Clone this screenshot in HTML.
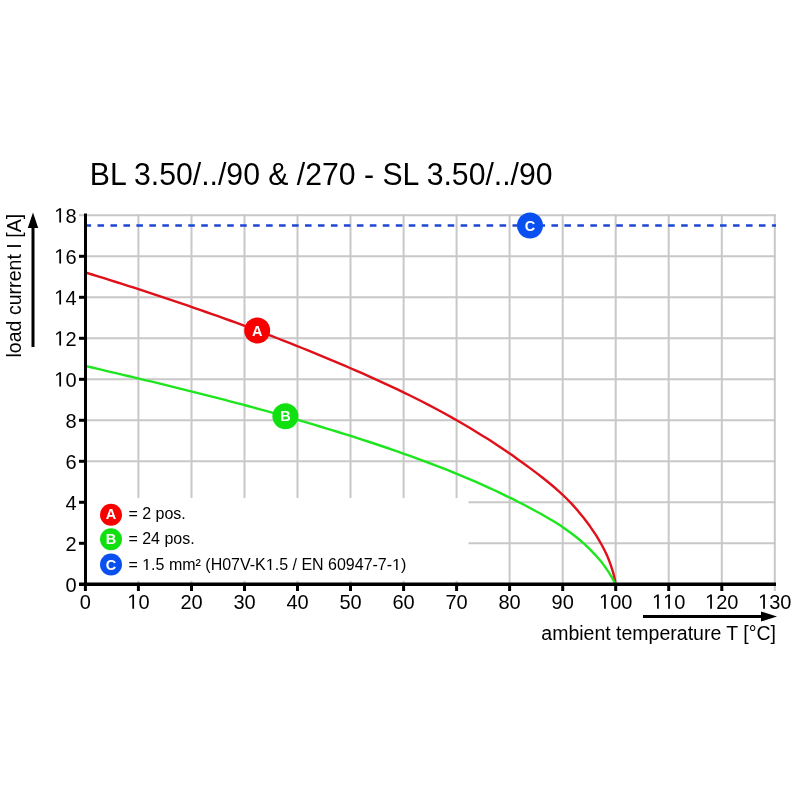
<!DOCTYPE html>
<html><head><meta charset="utf-8"><title>Derating curve BL 3.50 / SL 3.50</title><style>
html,body{margin:0;padding:0;background:#fff;}
svg{display:block;will-change:transform;font-family:"Liberation Sans",sans-serif;}
.o{fill-opacity:0;}
</style></head><body>
<svg width="800" height="800" viewBox="0 0 800 800">
<rect width="800" height="800" fill="#fff"/>
<g stroke="#c8c8c8" stroke-width="2"><line x1="138.4" y1="214" x2="138.4" y2="584"/><line x1="191.5" y1="214" x2="191.5" y2="584"/><line x1="244.5" y1="214" x2="244.5" y2="584"/><line x1="297.5" y1="214" x2="297.5" y2="584"/><line x1="350.5" y1="214" x2="350.5" y2="584"/><line x1="403.6" y1="214" x2="403.6" y2="584"/><line x1="456.6" y1="214" x2="456.6" y2="584"/><line x1="509.6" y1="214" x2="509.6" y2="584"/><line x1="562.7" y1="214" x2="562.7" y2="584"/><line x1="615.7" y1="214" x2="615.7" y2="584"/><line x1="668.7" y1="214" x2="668.7" y2="584"/><line x1="721.8" y1="214" x2="721.8" y2="584"/><line x1="774.8" y1="214" x2="774.8" y2="591"/><line x1="85" y1="543.3" x2="775.5" y2="543.3"/><line x1="85" y1="502.3" x2="775.5" y2="502.3"/><line x1="85" y1="461.3" x2="775.5" y2="461.3"/><line x1="85" y1="420.3" x2="775.5" y2="420.3"/><line x1="85" y1="379.3" x2="775.5" y2="379.3"/><line x1="85" y1="338.3" x2="775.5" y2="338.3"/><line x1="85" y1="297.3" x2="775.5" y2="297.3"/><line x1="85" y1="256.3" x2="775.5" y2="256.3"/><line x1="79" y1="215.3" x2="775.5" y2="215.3"/></g>
<line x1="84.5" y1="225.5" x2="776" y2="225.5" stroke="#1e46d2" stroke-width="2.3" stroke-dasharray="6.6 6.37"/>
<rect x="87" y="498" width="381.5" height="83" fill="#fff"/>
<path d="M86.0,272.6 L92.0,274.5 L98.0,276.3 L104.0,278.2 L110.0,280.1 L116.0,282.0 L122.0,283.9 L128.0,285.8 L134.0,287.7 L140.0,289.7 L146.0,291.6 L152.0,293.6 L158.0,295.6 L164.0,297.6 L170.0,299.6 L176.0,301.6 L182.0,303.6 L188.0,305.7 L194.0,307.8 L200.0,309.9 L206.0,312.0 L212.0,314.1 L218.0,316.2 L224.0,318.4 L230.0,320.5 L236.0,322.7 L242.0,324.9 L248.0,327.1 L254.0,329.4 L260.0,331.6 L266.0,333.9 L272.0,336.2 L278.0,338.5 L284.0,340.9 L290.0,343.2 L296.0,345.6 L302.0,348.0 L308.0,350.4 L314.0,352.9 L320.0,355.3 L326.0,357.8 L332.0,360.3 L338.0,362.8 L344.0,365.4 L350.0,368.0 L356.0,370.6 L362.0,373.2 L368.0,375.9 L374.0,378.6 L380.0,381.3 L386.0,384.1 L392.0,386.9 L398.0,389.7 L404.0,392.6 L410.0,395.5 L416.0,398.5 L422.0,401.5 L428.0,404.6 L434.0,407.8 L440.0,411.0 L446.0,414.3 L452.0,417.6 L458.0,421.0 L464.0,424.5 L470.0,428.0 L476.0,431.7 L482.0,435.4 L488.0,439.1 L494.0,443.0 L500.0,447.0 L506.0,451.0 L512.0,455.1 L518.0,459.4 L524.0,463.7 L530.0,468.1 L536.0,472.6 L542.0,477.3 L548.0,482.0 L554.0,487.0 L560.0,492.3 L566.0,498.0 L572.0,504.1 L578.0,510.9 L584.0,518.2 L590.0,526.3 L596.0,535.2 L600.0,541.8 L601.5,544.5 L603.0,547.3 L604.5,550.2 L606.0,553.3 L607.5,556.6 L609.0,560.3 L610.5,564.3 L612.0,568.8 L613.5,573.8 L615.0,580.1 L615.5,584.0" fill="none" stroke="#e0101a" stroke-width="2.4" stroke-linejoin="round"/>
<path d="M86.0,366.1 L92.0,367.5 L98.0,368.9 L104.0,370.3 L110.0,371.8 L116.0,373.2 L122.0,374.6 L128.0,376.0 L134.0,377.4 L140.0,378.9 L146.0,380.3 L152.0,381.7 L158.0,383.2 L164.0,384.7 L170.0,386.1 L176.0,387.6 L182.0,389.1 L188.0,390.6 L194.0,392.1 L200.0,393.6 L206.0,395.1 L212.0,396.6 L218.0,398.2 L224.0,399.7 L230.0,401.3 L236.0,402.9 L242.0,404.4 L248.0,406.0 L254.0,407.7 L260.0,409.3 L266.0,410.9 L272.0,412.6 L278.0,414.3 L284.0,416.0 L290.0,417.7 L296.0,419.4 L302.0,421.1 L308.0,422.9 L314.0,424.7 L320.0,426.5 L326.0,428.3 L332.0,430.1 L338.0,432.0 L344.0,433.8 L350.0,435.7 L356.0,437.6 L362.0,439.6 L368.0,441.5 L374.0,443.5 L380.0,445.5 L386.0,447.5 L392.0,449.6 L398.0,451.7 L404.0,453.8 L410.0,455.9 L416.0,458.1 L422.0,460.3 L428.0,462.5 L434.0,464.8 L440.0,467.1 L446.0,469.4 L452.0,471.8 L458.0,474.3 L464.0,476.8 L470.0,479.3 L476.0,481.9 L482.0,484.6 L488.0,487.3 L494.0,490.0 L500.0,492.9 L506.0,495.8 L512.0,498.7 L518.0,501.7 L524.0,504.8 L530.0,508.0 L536.0,511.2 L542.0,514.5 L548.0,518.0 L554.0,521.5 L560.0,525.3 L566.0,529.4 L572.0,533.7 L578.0,538.5 L584.0,543.7 L590.0,549.4 L596.0,555.7 L600.0,560.3 L601.5,562.1 L603.0,564.1 L604.5,566.1 L606.0,568.2 L607.5,570.4 L609.0,572.7 L610.5,575.1 L612.0,577.6 L613.5,580.3 L615.0,583.0 L615.5,584.0" fill="none" stroke="#1ee61e" stroke-width="2.4" stroke-linejoin="round"/>
<line x1="85.5" y1="213.5" x2="85.5" y2="586" stroke="#000" stroke-width="3"/>
<line x1="79" y1="584.3" x2="776" y2="584.3" stroke="#000" stroke-width="3.4"/>
<g stroke="#000" stroke-width="3"><line x1="79" y1="543.3" x2="86" y2="543.3"/><line x1="79" y1="502.3" x2="86" y2="502.3"/><line x1="79" y1="461.3" x2="86" y2="461.3"/><line x1="79" y1="420.3" x2="86" y2="420.3"/><line x1="79" y1="379.3" x2="86" y2="379.3"/><line x1="79" y1="338.3" x2="86" y2="338.3"/><line x1="79" y1="297.3" x2="86" y2="297.3"/><line x1="79" y1="256.3" x2="86" y2="256.3"/><line x1="85.4" y1="584" x2="85.4" y2="591"/><line x1="138.4" y1="584" x2="138.4" y2="591"/><line x1="191.5" y1="584" x2="191.5" y2="591"/><line x1="244.5" y1="584" x2="244.5" y2="591"/><line x1="297.5" y1="584" x2="297.5" y2="591"/><line x1="350.5" y1="584" x2="350.5" y2="591"/><line x1="403.6" y1="584" x2="403.6" y2="591"/><line x1="456.6" y1="584" x2="456.6" y2="591"/><line x1="509.6" y1="584" x2="509.6" y2="591"/><line x1="562.7" y1="584" x2="562.7" y2="591"/><line x1="615.7" y1="584" x2="615.7" y2="591"/><line x1="668.7" y1="584" x2="668.7" y2="591"/><line x1="721.8" y1="584" x2="721.8" y2="591"/></g>
<g font-size="20"><text transform="matrix(1,0,0,1.04,76.5,591.5999999999999)" text-anchor="end">0</text><text transform="matrix(1,0,0,1.04,76.5,550.5999999999999)" text-anchor="end">2</text><text transform="matrix(1,0,0,1.04,76.5,509.59999999999997)" text-anchor="end">4</text><text transform="matrix(1,0,0,1.04,76.5,468.59999999999997)" text-anchor="end">6</text><text transform="matrix(1,0,0,1.04,76.5,427.59999999999997)" text-anchor="end">8</text><text transform="matrix(1,0,0,1.04,76.5,386.59999999999997)" text-anchor="end"><tspan class="o">1</tspan>0</text><text transform="matrix(1,0,0,1.04,76.5,345.59999999999997)" text-anchor="end"><tspan class="o">1</tspan>2</text><text transform="matrix(1,0,0,1.04,76.5,304.59999999999997)" text-anchor="end"><tspan class="o">1</tspan>4</text><text transform="matrix(1,0,0,1.04,76.5,263.59999999999997)" text-anchor="end"><tspan class="o">1</tspan>6</text><text transform="matrix(1,0,0,1.04,76.5,222.59999999999997)" text-anchor="end"><tspan class="o">1</tspan>8</text><text transform="matrix(1,0,0,1.04,85.4,608.8)" text-anchor="middle">0</text><text transform="matrix(1,0,0,1.04,138.4,608.8)" text-anchor="middle"><tspan class="o">1</tspan>0</text><text transform="matrix(1,0,0,1.04,191.5,608.8)" text-anchor="middle">20</text><text transform="matrix(1,0,0,1.04,244.5,608.8)" text-anchor="middle">30</text><text transform="matrix(1,0,0,1.04,297.5,608.8)" text-anchor="middle">40</text><text transform="matrix(1,0,0,1.04,350.5,608.8)" text-anchor="middle">50</text><text transform="matrix(1,0,0,1.04,403.6,608.8)" text-anchor="middle">60</text><text transform="matrix(1,0,0,1.04,456.6,608.8)" text-anchor="middle">70</text><text transform="matrix(1,0,0,1.04,509.6,608.8)" text-anchor="middle">80</text><text transform="matrix(1,0,0,1.04,562.7,608.8)" text-anchor="middle">90</text><text transform="matrix(1,0,0,1.04,615.7,608.8)" text-anchor="middle"><tspan class="o">1</tspan>00</text><text transform="matrix(1,0,0,1.04,668.7,608.8)" text-anchor="middle"><tspan class="o">1</tspan><tspan class="o">1</tspan>0</text><text transform="matrix(1,0,0,1.04,721.8,608.8)" text-anchor="middle"><tspan class="o">1</tspan>20</text><text transform="matrix(1,0,0,1.04,774.8,608.8)" text-anchor="middle"><tspan class="o">1</tspan>30</text></g>
<text transform="matrix(1,0,0,1.02,89.8,185)" font-size="30.2">BL 3.50/../90 &amp; /270 - SL 3.50/../90</text>
<text transform="matrix(1,0,0,1.0,776,639.5)" font-size="19.5" text-anchor="end">ambient temperature T [°C]</text>
<line x1="643" y1="616.5" x2="764" y2="616.5" stroke="#000" stroke-width="3"/>
<path d="M777,616.5 L761,611.5 L761,621.5 Z" fill="#000"/>
<text transform="matrix(0,-1,1.0,0,21.1,357.6)" font-size="19.6">load current I [A]</text>
<line x1="33" y1="347" x2="33" y2="226" stroke="#000" stroke-width="3"/>
<path d="M33,212.5 L27.8,228 L38.2,228 Z" fill="#000"/>
<circle cx="257.2" cy="330.5" r="13" fill="#f80000"/><text transform="matrix(1,0,0,1.0,257.2,335.5)" font-size="14.5" font-weight="bold" fill="#fff" text-anchor="middle">A</text>
<circle cx="285.4" cy="416.3" r="13" fill="#10e010"/><text transform="matrix(1,0,0,1.0,285.4,421.3)" font-size="14.5" font-weight="bold" fill="#fff" text-anchor="middle">B</text>
<circle cx="530" cy="225.5" r="13" fill="#0a50f0"/><text transform="matrix(1,0,0,1.0,530,230.5)" font-size="14.5" font-weight="bold" fill="#fff" text-anchor="middle">C</text>
<circle cx="111" cy="514.7" r="11" fill="#f80000"/><text transform="matrix(1,0,0,1.0,111,519.2)" font-size="14.5" font-weight="bold" fill="#fff" text-anchor="middle">A</text>
<circle cx="111" cy="539.3" r="11" fill="#10e010"/><text transform="matrix(1,0,0,1.0,111,543.9)" font-size="14.5" font-weight="bold" fill="#fff" text-anchor="middle">B</text>
<circle cx="111" cy="564.5" r="11" fill="#0a50f0"/><text transform="matrix(1,0,0,1.0,111,569.5)" font-size="14.5" font-weight="bold" fill="#fff" text-anchor="middle">C</text>
<g font-size="16"><text transform="matrix(1,0,0,1.0,128.4,519)" >= 2 pos.</text><text transform="matrix(1,0,0,1.0,128.4,544.3)" >= 24 pos.</text><text transform="matrix(1,0,0,1.0,128.4,570)" >= <tspan class="o">1</tspan>.5 mm² (H07V-K<tspan class="o">1</tspan>.5 / EN 60947-7-<tspan class="o">1</tspan>)</text></g>
<g fill="#000"><path transform="matrix(0.009766,0.000000,0.000000,-0.010156,54.262,386.600)" d="M515 0V1237L197 1010V1180L530 1409H696V0Z"/><path transform="matrix(0.009766,0.000000,0.000000,-0.010156,54.262,345.600)" d="M515 0V1237L197 1010V1180L530 1409H696V0Z"/><path transform="matrix(0.009766,0.000000,0.000000,-0.010156,54.262,304.600)" d="M515 0V1237L197 1010V1180L530 1409H696V0Z"/><path transform="matrix(0.009766,0.000000,0.000000,-0.010156,54.262,263.600)" d="M515 0V1237L197 1010V1180L530 1409H696V0Z"/><path transform="matrix(0.009766,0.000000,0.000000,-0.010156,54.262,222.600)" d="M515 0V1237L197 1010V1180L530 1409H696V0Z"/><path transform="matrix(0.009766,0.000000,0.000000,-0.010156,127.281,608.800)" d="M515 0V1237L197 1010V1180L530 1409H696V0Z"/><path transform="matrix(0.009766,0.000000,0.000000,-0.010156,599.021,608.800)" d="M515 0V1237L197 1010V1180L530 1409H696V0Z"/><path transform="matrix(0.009766,0.000000,0.000000,-0.010156,652.021,608.800)" d="M515 0V1237L197 1010V1180L530 1409H696V0Z"/><path transform="matrix(0.009766,0.000000,0.000000,-0.010156,663.140,608.800)" d="M515 0V1237L197 1010V1180L530 1409H696V0Z"/><path transform="matrix(0.009766,0.000000,0.000000,-0.010156,705.121,608.800)" d="M515 0V1237L197 1010V1180L530 1409H696V0Z"/><path transform="matrix(0.009766,0.000000,0.000000,-0.010156,758.121,608.800)" d="M515 0V1237L197 1010V1180L530 1409H696V0Z"/><path transform="matrix(0.007812,0.000000,0.000000,-0.007812,142.197,570.000)" d="M515 0V1237L197 1010V1180L530 1409H696V0Z"/><path transform="matrix(0.007812,0.000000,0.000000,-0.007812,265.791,570.000)" d="M515 0V1237L197 1010V1180L530 1409H696V0Z"/><path transform="matrix(0.007812,0.000000,0.000000,-0.007812,392.103,570.000)" d="M515 0V1237L197 1010V1180L530 1409H696V0Z"/></g>
</svg>
</body></html>
